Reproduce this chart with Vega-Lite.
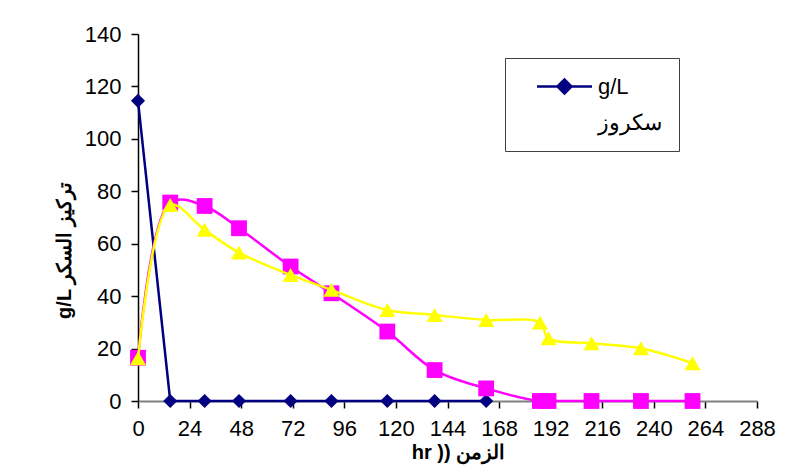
{
  "$schema": "https://vega.github.io/schema/vega-lite/v6.json",
  "width": 619,
  "height": 367,
  "padding": {"left": 54, "top": 23, "right": 5, "bottom": 5},
  "background": "white",
  "config": {"view": {"stroke": null}, "font": "Liberation Sans"},
  "data": {
    "values": [
      {"series": "sucrose", "hr": 0, "value": 114.5},
      {"series": "sucrose", "hr": 15, "value": 0},
      {"series": "sucrose", "hr": 31, "value": 0},
      {"series": "sucrose", "hr": 47, "value": 0},
      {"series": "sucrose", "hr": 71, "value": 0},
      {"series": "sucrose", "hr": 90, "value": 0},
      {"series": "sucrose", "hr": 116, "value": 0},
      {"series": "sucrose", "hr": 138, "value": 0},
      {"series": "sucrose", "hr": 162, "value": 0},
      {"series": "series2", "hr": 0, "value": 16.5},
      {"series": "series2", "hr": 15, "value": 75.7},
      {"series": "series2", "hr": 31, "value": 74.4},
      {"series": "series2", "hr": 47, "value": 65.9},
      {"series": "series2", "hr": 71, "value": 51.3},
      {"series": "series2", "hr": 90, "value": 41.1},
      {"series": "series2", "hr": 116, "value": 26.5},
      {"series": "series2", "hr": 138, "value": 11.8},
      {"series": "series2", "hr": 162, "value": 4.8},
      {"series": "series2", "hr": 187, "value": 0},
      {"series": "series2", "hr": 191, "value": 0},
      {"series": "series2", "hr": 211, "value": 0},
      {"series": "series2", "hr": 234, "value": 0},
      {"series": "series2", "hr": 258, "value": 0},
      {"series": "series3", "hr": 0, "value": 16.3},
      {"series": "series3", "hr": 15, "value": 74.8},
      {"series": "series3", "hr": 31, "value": 65.3},
      {"series": "series3", "hr": 47, "value": 56.6},
      {"series": "series3", "hr": 71, "value": 48.1},
      {"series": "series3", "hr": 90, "value": 42.4},
      {"series": "series3", "hr": 116, "value": 34.7},
      {"series": "series3", "hr": 138, "value": 32.8},
      {"series": "series3", "hr": 162, "value": 30.9},
      {"series": "series3", "hr": 187, "value": 29.9},
      {"series": "series3", "hr": 191, "value": 23.9},
      {"series": "series3", "hr": 211, "value": 22.0},
      {"series": "series3", "hr": 234, "value": 20.1},
      {"series": "series3", "hr": 258, "value": 14.4}
    ]
  },
  "encoding": {
    "x": {
      "field": "hr", "type": "quantitative",
      "scale": {"domain": [0, 288], "nice": false},
      "axis": {
        "values": [0, 24, 48, 72, 96, 120, 144, 168, 192, 216, 240, 264, 288],
        "grid": false, "labelFlush": false,
        "labelFontSize": 22, "labelColor": "black", "labelPadding": 10,
        "tickSize": 7, "tickColor": "black", "tickWidth": 1.5,
        "domainColor": "#808080", "domainWidth": 2,
        "title": "hr )) الزمن", "titleFontSize": 20, "titleFontWeight": "bold",
        "titleColor": "black", "titlePadding": 3, "titleX": 320
      }
    },
    "y": {
      "field": "value", "type": "quantitative",
      "scale": {"domain": [0, 140], "nice": false},
      "axis": {
        "values": [0, 20, 40, 60, 80, 100, 120, 140],
        "grid": false,
        "labelFontSize": 22, "labelColor": "black", "labelPadding": 10,
        "tickSize": 7, "tickColor": "black", "tickWidth": 1.5,
        "domainColor": "black", "domainWidth": 1.5,
        "title": "g/L تركيز السكر", "titleFontSize": 20, "titleFontWeight": "bold",
        "titleColor": "black", "titlePadding": 10, "titleY": 216
      }
    },
    "color": {
      "field": "series", "type": "nominal",
      "scale": {"domain": ["sucrose", "series2", "series3"], "range": ["#000080", "#FF00FF", "#FFFF00"]},
      "legend": {
        "values": ["sucrose"],
        "title": null,
        "orient": "none", "legendX": 367, "legendY": 24,
        "strokeColor": "#404040", "fillColor": "white", "padding": 17,
        "symbolOffset": 31,
        "labelExpr": "['g/L', 'سكروز']",
        "labelFontSize": 22, "labelColor": "black", "labelOffset": 22, "labelLimit": 300,
        "symbolSize": 400,
        "encode": {
          "symbols": {"update": {
            "shape": {"value": "M-2.75,0L2.75,0M-0.7,0L0,-0.7L0.7,0L0,0.7Z"},
            "fill": {"value": "#000080"}, "stroke": {"value": "#000080"},
            "strokeWidth": {"value": 2.5}, "size": {"value": 400}, "opacity": {"value": 1}
          }},
          "labels": {"update": {"lineHeight": {"value": 36}}}
        }
      }
    }
  },
  "layer": [
    {"transform": [{"filter": "datum.series === 'sucrose'"}], "mark": {"type": "line", "strokeWidth": 2.5}},
    {"transform": [{"filter": "datum.series === 'sucrose'"}], "mark": {"type": "point", "shape": "diamond", "filled": true, "size": 200, "opacity": 1}},
    {"transform": [{"filter": "datum.series === 'series2'"}], "mark": {"type": "line", "strokeWidth": 2.5, "interpolate": "catmull-rom"}},
    {"transform": [{"filter": "datum.series === 'series2'"}], "mark": {"type": "point", "shape": "square", "filled": true, "size": 250, "opacity": 1}},
    {"transform": [{"filter": "datum.series === 'series3'"}], "mark": {"type": "line", "strokeWidth": 2.5, "interpolate": "catmull-rom"}},
    {"transform": [{"filter": "datum.series === 'series3'"}], "mark": {"type": "point", "shape": "triangle-up", "filled": true, "size": 260, "opacity": 1}}
  ]
}
